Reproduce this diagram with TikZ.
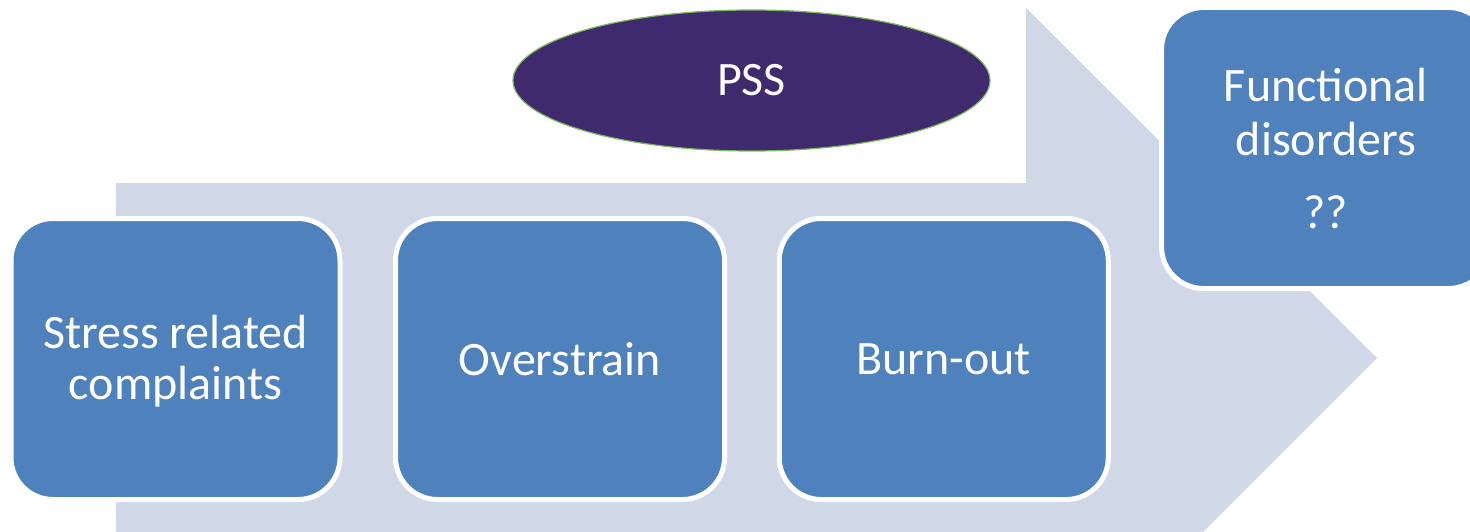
\documentclass[tikz,border=0pt]{standalone}
\usepackage{fontspec}
\setmainfont{Carlito}
\usetikzlibrary{shapes.geometric}
\definecolor{arrowbg}{HTML}{D0D8E8}
\definecolor{boxblue}{HTML}{4F81BD}
\definecolor{psspurple}{HTML}{3F2A6E}
\definecolor{pssgreen}{HTML}{7AB85A}
\tikzset{
  stagebox/.style={draw=white, line width=5pt, fill=boxblue, rounded corners=42pt,
    minimum width=329pt, minimum height=281pt, inner sep=0pt, text=white,
    align=center, font=\fontsize{48pt}{51pt}\selectfont},
  pssoval/.style={ellipse, draw=pssgreen, line width=1.2pt, fill=psspurple,
    minimum width=477pt, minimum height=141pt, inner sep=0pt, text=white,
    font=\fontsize{48pt}{51pt}\selectfont}
}
\begin{document}
\begin{tikzpicture}[x=1pt,y=-1pt]
\useasboundingbox (0,0) rectangle (1470,532);
\clip (0,0) rectangle (1470,532);
\fill[white] (0,0) rectangle (1470,532);
% background arrow
\fill[arrowbg] (116,183) -- (1026,183) -- (1026,8) -- (1377,358) -- (1027,708)
  -- (1027,533) -- (116,533) -- cycle;
% stages
\node[stagebox] (src) at (175.5,359) {\rule{0pt}{38pt}Stress related\\complaints};
\node[stagebox] (ovs) at (560,359) {Overstrain};
\node[stagebox] (bo) at (943.75,359) {Burn-out};
\node[stagebox] (fd) at (1326,148) {Functional\\[3pt]disorders\\[22pt]??};
% PSS
\node[pssoval] (pss) at (751.5,80.5) {PSS};
\end{tikzpicture}
\end{document}
